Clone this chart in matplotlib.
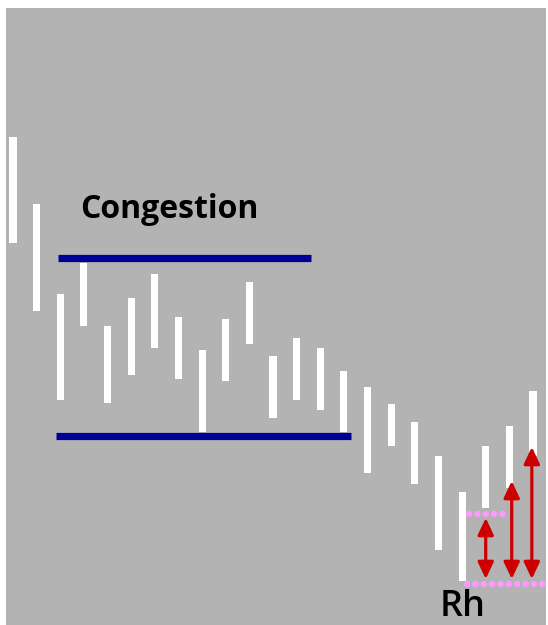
# plot.py
# Bar chart sketch: congestion zone followed by a range breakout (Rh)

import numpy as np
from matplotlib import pyplot as plt

# price bars (high / low), one per session
highs = [48.8, 42.1, 33.1, 36.2, 29.9, 32.7, 35.1, 30.8, 27.5, 30.6, 34.3, 26.9,
         28.7, 27.7, 25.4, 23.8, 22.1, 20.3, 16.9, 13.3, 17.9, 19.9, 23.4]
lows = [38.2, 31.4, 22.5, 29.9, 22.2, 25.0, 27.7, 24.6, 19.3, 24.4, 28.1, 20.7,
        22.5, 21.5, 19.3, 15.2, 17.9, 14.1, 7.5, 4.4, 11.7, 13.7, 16.9]

# congestion band (level, start bar, end bar)
congTop = (36.75, 1.9, 12.6)
congBottom = (18.9, 1.82, 14.3)

# Rh reference levels (level, start bar, end bar)
rhUpper = (11.1, 19.3, 20.75)
rhLower = (4.1, 19.2, 23.0)

# measured swings: bar position, from, to
arrowX = [20.0, 21.1, 21.95]
arrowFrom = [4.6, 4.6, 4.6]
arrowTo = [10.7, 14.4, 17.8]

BG = "#b3b3b3"
NAVY = "#000099"
RED = "#cc0000"
PINK = "#ff99ff"


def main():

    fig = plt.figure(figsize=(5.48, 6.25), dpi=100)
    ax = fig.add_axes([6 / 548, 0, 540 / 548, 617 / 625])
    ax.set_facecolor(BG)
    for s in ax.spines.values():
        s.set_visible(False)
    ax.set_xticks([])
    ax.set_yticks([])

    x = np.arange(len(highs))
    ax.bar(x, np.array(highs) - np.array(lows), bottom=lows, width=0.3,
           color="white", zorder=2)

    # congestion lines
    for lvl, x0, x1 in (congTop, congBottom):
        ax.plot([x0, x1], [lvl, lvl], color=NAVY, lw=5.2, solid_capstyle="butt",
                zorder=3)

    # dotted Rh levels
    for lvl, x0, x1 in (rhUpper, rhLower):
        ax.plot([x0, x1], [lvl, lvl], color=PINK, lw=4.6, linestyle=(0, (0.01, 1.3)),
                dash_capstyle="round", zorder=3)

    for xa, y0, y1 in zip(arrowX, arrowFrom, arrowTo):
        ax.annotate("", xy=(xa, y1), xytext=(xa, y0),
                    arrowprops=dict(arrowstyle="<|-|>,head_length=0.72,head_width=0.34",
                                    color=RED, lw=2.3, shrinkA=0, shrinkB=0,
                                    mutation_scale=14),
                    zorder=4)

    ax.text(2.84, 40.7, "Congestion", fontsize=23, family="Open Sans",
            fontweight="bold", va="baseline", ha="left")
    ax.text(18.06, 0.9, "Rh", fontsize=26, family="Open Sans",
            fontweight="semibold", va="baseline", ha="left")

    ax.set_xlim(-0.296, 22.55)
    ax.set_ylim(0, 61.7)

    fig.savefig("out.png", dpi=100)


if __name__ == '__main__':
    main()
